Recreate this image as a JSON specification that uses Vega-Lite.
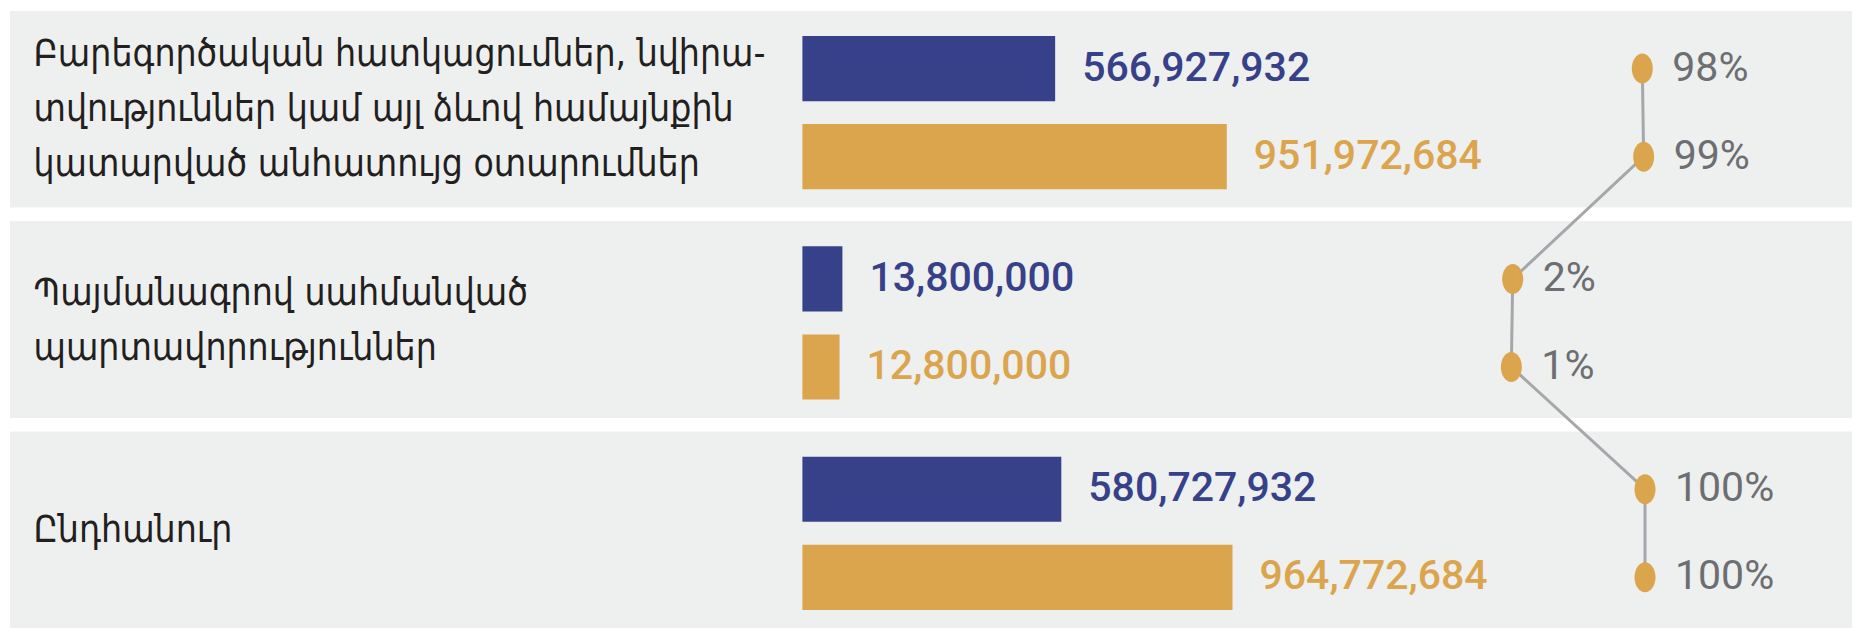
{
  "$schema": "https://vega.github.io/schema/vega-lite/v6.json",
  "width": 1864,
  "height": 634,
  "autosize": {"type": "fit", "contains": "padding"},
  "padding": {"left": 10, "right": 12, "top": 11, "bottom": 6},
  "background": "#ffffff",
  "config": {"view": {"stroke": null}},
  "data": {
    "values": [
      {"category": "Բարեգործական հատկացումներ, նվիրա-|տվություններ կամ այլ ձևով համայնքին|կատարված անհատույց օտարումներ", "series": "s1", "value": 566927932, "pct": 0.98, "order": 1},
      {"category": "Բարեգործական հատկացումներ, նվիրա-|տվություններ կամ այլ ձևով համայնքին|կատարված անհատույց օտարումներ", "series": "s2", "value": 951972684, "pct": 0.99, "order": 2},
      {"category": "Պայմանագրով սահմանված|պարտավորություններ", "series": "s1", "value": 13800000, "pct": 0.02, "order": 3},
      {"category": "Պայմանագրով սահմանված|պարտավորություններ", "series": "s2", "value": 12800000, "pct": 0.01, "order": 4},
      {"category": "Ընդհանուր", "series": "s1", "value": 580727932, "pct": 1.0, "order": 5},
      {"category": "Ընդհանուր", "series": "s2", "value": 964772684, "pct": 1.0, "order": 6}
    ]
  },
  "encoding": {
    "y": {
      "field": "category",
      "type": "nominal",
      "sort": null,
      "scale": {"paddingInner": 0.0666, "paddingOuter": 0},
      "axis": {
        "title": null,
        "domain": false,
        "ticks": false,
        "grid": false,
        "labelAlign": "left",
        "labelBaseline": {
          "condition": [
            {"test": "length(split(datum.value, '|')) == 3", "value": "line-bottom"},
            {"test": "length(split(datum.value, '|')) == 1", "value": "line-top"}
          ],
          "value": "middle"
        },
        "labelOffset": -26,
        "labelPadding": -23,
        "labelFont": "DejaVu Sans Condensed, DejaVu Sans",
        "labelFontSize": 37,
        "labelLineHeight": 55,
        "labelColor": "#231f20",
        "labelLimit": 0,
        "labelExpr": "split(datum.label, '|')",
        "zindex": 1
      }
    }
  },
  "layer": [
    {
      "mark": {"type": "rect", "color": "#eeefef"},
      "encoding": {}
    },
    {
      "encoding": {
        "x": {
          "field": "value",
          "type": "quantitative",
          "scale": {"domain": [0, 15000000, 100000000, 1500000000], "range": [792.4, 835.9, 837, 1461.1], "nice": false, "zero": false},
          "axis": null
        },
        "yOffset": {"field": "series", "type": "nominal", "sort": null, "scale": {"paddingInner": 0.26, "paddingOuter": 0.245, "align": 0.58}},
        "color": {"field": "series", "type": "nominal", "scale": {"domain": ["s1", "s2"], "range": ["#37418a", "#dba54d"]}, "legend": null}
      },
      "layer": [
        {"mark": {"type": "bar"}},
        {
          "mark": {"type": "text", "align": "left", "baseline": "middle", "dx": 27, "font": "Roboto", "fontSize": 41, "fontWeight": 500},
          "encoding": {"text": {"field": "value", "type": "quantitative", "format": ",d"}}
        }
      ]
    },
    {
      "encoding": {
        "x": {
          "field": "pct",
          "type": "quantitative",
          "scale": {"domain": [0, 1], "range": [1500, 1635], "nice": false, "zero": false},
          "axis": null
        },
        "yOffset": {"field": "series", "type": "nominal", "sort": null, "scale": {"paddingInner": 0.26, "paddingOuter": 0.245, "align": 0.58}}
      },
      "layer": [
        {
          "mark": {"type": "line", "color": "#a5a7aa", "strokeWidth": 3},
          "encoding": {"order": {"field": "order", "type": "quantitative"}}
        },
        {
          "mark": {"type": "point", "filled": true, "opacity": 1, "color": "#dba54d", "size": 900, "shape": "M -0.7 0 A 0.7 1 0 1 1 0.7 0 A 0.7 1 0 1 1 -0.7 0 Z"}
        },
        {
          "mark": {"type": "text", "align": "left", "baseline": "middle", "dx": 30, "font": "Roboto", "fontSize": 41, "color": "#6d6e71"},
          "encoding": {"text": {"field": "pct", "type": "quantitative", "format": ".0%"}}
        }
      ]
    }
  ],
  "resolve": {"scale": {"x": "independent"}}
}
